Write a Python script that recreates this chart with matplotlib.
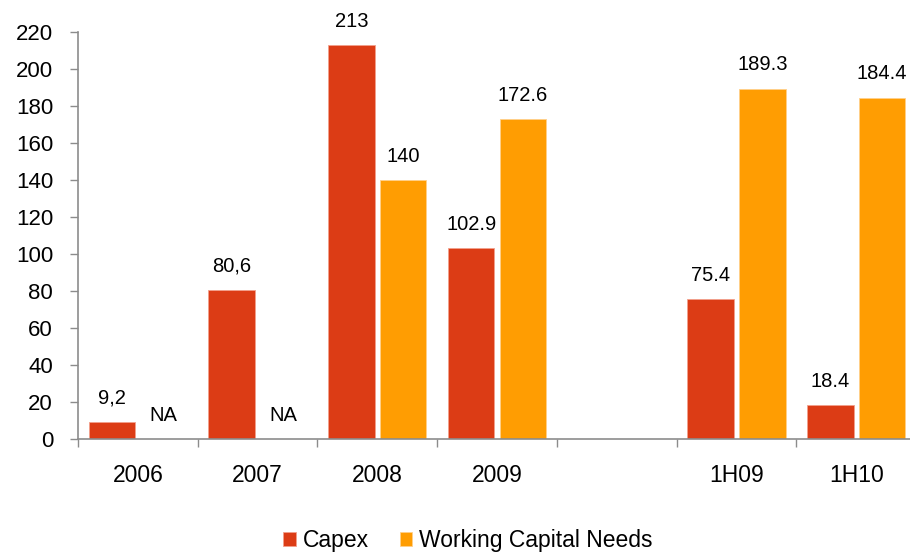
import numpy as np
import matplotlib.pyplot as plt
from matplotlib.ticker import FixedLocator

plt.rcParams['font.family'] = ['Liberation Sans', 'DejaVu Sans']

categories = ["2006", "2007", "2008", "2009", "", "1H09", "1H10"]
capex = [9.2, 80.6, 213, 102.9, np.nan, 75.4, 18.4]
wcn = [0, 0, 140, 172.6, np.nan, 189.3, 184.4]
capex_labels = ["9,2", "80,6", "213", "102.9", "", "75.4", "18.4"]
wcn_labels = ["NA", "NA", "140", "172.6", "", "189.3", "184.4"]

capex_color = "#DC3C15"
wcn_color = "#FF9D02"
axis_color = "#8C8C8C"

x = np.arange(len(categories))
w = 0.39
off = 0.216

fig = plt.figure(figsize=(9.1, 5.55), dpi=100)
ax = fig.add_axes([78 / 910, (555 - 439) / 555, (910 - 78) / 910, (439 - 31.7) / 555])

b1 = ax.bar(x - off, capex, w, color=capex_color, edgecolor="#F2A08C", linewidth=0.6, label="Capex")
b2 = ax.bar(x + off, wcn, w, color=wcn_color, edgecolor="#FFD08A", linewidth=0.6,
            label="Working Capital Needs")

# value labels above each bar
for xi, v, t in zip(x - off, capex, capex_labels):
    if t:
        ax.annotate(t, (xi, v), xytext=(0, 17), textcoords="offset points",
                    ha="center", va="center", fontsize=14.5)
for xi, v, t in zip(x + off, wcn, wcn_labels):
    if t:
        ax.annotate(t, (xi, v), xytext=(0, 17), textcoords="offset points",
                    ha="center", va="center", fontsize=14.5)

ax.set_ylim(0, 220)
ax.set_yticks(range(0, 221, 20))
ax.set_xlim(-0.5, 6.45)
ax.set_xticks(x)
ax.set_xticklabels(categories, fontsize=16.5)
ax.tick_params(axis="x", which="major", length=0, pad=18)
ax.xaxis.set_minor_locator(FixedLocator(np.arange(-0.5, 6.5, 1.0)))
ax.tick_params(axis="x", which="minor", length=6, width=1, color=axis_color, direction="out")
ax.tick_params(axis="y", length=6, width=1, color=axis_color, labelsize=16, pad=12)

for s in ["top", "right"]:
    ax.spines[s].set_visible(False)
for s in ["left", "bottom"]:
    ax.spines[s].set_color(axis_color)
    ax.spines[s].set_linewidth(1.2)

fig.legend(handles=[b1, b2], loc="center", bbox_to_anchor=(468 / 910, 1 - 541 / 555),
           ncol=2, frameon=False, fontsize=16.5, handlelength=0.55, handleheight=0.55,
           handletextpad=0.3, columnspacing=1.35, borderpad=0)

fig.savefig("out.png", dpi=100)
